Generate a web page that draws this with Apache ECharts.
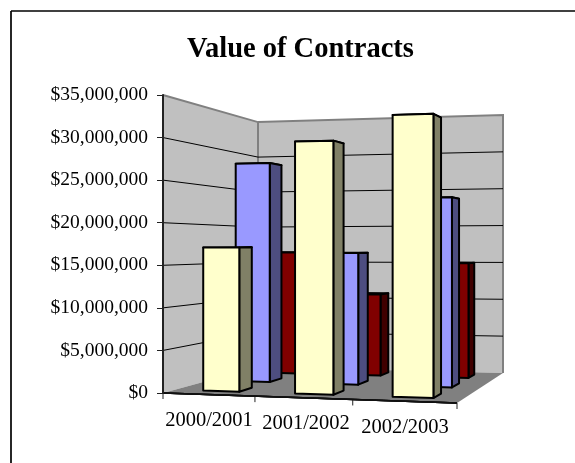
<!DOCTYPE html>
<html>
<head>
<meta charset="utf-8">
<style>html,body{margin:0;padding:0;background:#fff}#c{width:575px;height:463px}</style>
<script src="https://cdn.jsdelivr.net/npm/echarts@6/dist/echarts.min.js"></script>
</head>
<body>
<div id="c"></div>
<script>
const categories = ['2000/2001', '2001/2002', '2002/2003'];
const yellowValues = [17100000, 29500000, 32300000];
const blueValues = [27800000, 16400000, 23200000];
const redValues = [16400000, 10800000, 15000000];
const gridValues = [5000000, 10000000, 15000000, 20000000, 25000000, 30000000];
const tickCats = [0, 1, 2, 3];
const labelShifts = [[17, 6], [20, 8], [24, 6]];
const FONT = '"Liberation Serif", serif';

// Floor corners of the perspective box (front-left, front-right, back-right, back-left)
const A = [163, 393], B = [457, 403], C = [503, 373], D = [258, 367];
const GL = 163, GR = 457, GT = 95, GB = 393;
const dx1 = [B[0]-C[0], B[1]-C[1]], dx2 = [D[0]-C[0], D[1]-C[1]];
const s = [A[0]-B[0]+C[0]-D[0], A[1]-B[1]+C[1]-D[1]];
const det = (p, q) => p[0]*q[1]-p[1]*q[0];
const dd = det(dx1, dx2), g = det(s, dx2)/dd, h = det(dx1, s)/dd;
const a11 = B[0]-A[0]+g*B[0], a12 = D[0]-A[0]+h*D[0];
const a21 = B[1]-A[1]+g*B[1], a22 = D[1]-A[1]+h*D[1];
const gH = -0.062; // perspective of heights along the front
// u: 0..1 along front, w: 0..1 depth, f: 0..1 fraction of the value axis
function proj(u, w, f) {
  const W = g*u + h*w + 1;
  const x = (a11*u + a12*w + A[0]) / W;
  const y = (a21*u + a22*w + A[1]) / W;
  return [x, y - f*(GB-GT)/(gH*u + h*w + 1)];
}
const toU = px => (px-GL)/(GR-GL);
const toF = py => (GB-py)/(GB-GT);

function poly(points, fill, stroke, lw) {
  return {type:'polygon', shape:{points}, style:{fill, stroke:stroke||'none', lineWidth:lw||0, lineJoin:'round'}};
}
function line(points, stroke, lw) {
  return {type:'polyline', shape:{points}, style:{fill:'none', stroke, lineWidth:lw}};
}
function barSeries(name, values, w0, w1, front, side, z) {
  return {
    type:'custom', name, z, coordinateSystem:'cartesian2d', clip:false,
    data: values.map((v,i)=>[i,v]),
    encode:{x:0,y:1},
    renderItem(params, api){
      const p = api.coord([api.value(0), api.value(1)]);
      const cw = api.size([1,0])[0];
      const u0 = toU(p[0]-cw*0.2)+0.005, u1 = toU(p[0]+cw*0.2)+0.005, f = toF(p[1]);
      const K = '#000';
      return {type:'group', children:[
        poly([proj(u0,w0,f),proj(u1,w0,f),proj(u1,w1,f),proj(u0,w1,f)], front, K, 2),
        poly([proj(u1,w0,0),proj(u1,w1,0),proj(u1,w1,f),proj(u1,w0,f)], side, K, 2),
        poly([proj(u0,w0,0),proj(u1,w0,0),proj(u1,w0,f),proj(u0,w0,f)], front, K, 2)
      ]};
    }
  };
}

const chart = echarts.init(document.getElementById('c'), null, {renderer:'canvas'});
chart.setOption({
  animation:false,
  backgroundColor:'#fff',
  title:{text:'Value of Contracts', left:182, top:30,
    textStyle:{fontFamily:FONT, fontSize:28.5, fontWeight:'bold', color:'#000'}},
  grid:{left:GL, right:575-GR, top:GT, bottom:463-GB},
  graphic:[
    {type:'line', shape:{x1:11,y1:11,x2:575,y2:11}, style:{stroke:'#000',lineWidth:1.7}},
    {type:'line', shape:{x1:11,y1:11,x2:11,y2:463}, style:{stroke:'#000',lineWidth:1.7}}
  ],
  xAxis:{type:'category', data:categories.map((c,i)=>({value:c,
      textStyle:{padding:[labelShifts[i][0],labelShifts[i][1],0,0]}})),
    axisLine:{show:false}, axisTick:{show:false},
    axisLabel:{margin:0, interval:0, hideOverlap:false, fontFamily:FONT, fontSize:20.5, color:'#000'}},
  yAxis:{type:'value', min:0, max:35000000, interval:5000000, z:3,
    splitLine:{show:false},
    axisLine:{show:true, lineStyle:{color:'#222', width:2}},
    axisTick:{show:true, length:6, lineStyle:{color:'#222', width:1}},
    axisLabel:{margin:15, fontFamily:FONT, fontSize:19.5, color:'#000',
      formatter:v=>'$'+v.toLocaleString('en-US')}},
  series:[
    { // walls and floor
      type:'custom', name:'walls', z:1, clip:false, data:[[0,35000000]], encode:{x:0,y:1}, silent:true,
      renderItem(params, api){
        const f = toF(api.coord([0, api.value(1)])[1]);
        return {type:'group', children:[
          poly([proj(0,0,0),proj(0,1,0),proj(0,1,f),proj(0,0,f)], '#C0C0C0'),
          poly([proj(0,1,0),proj(1,1,0),proj(1,1,f),proj(0,1,f)], '#C0C0C0'),
          poly([proj(0,0,0),proj(1,0,0),proj(1,1,0),proj(0,1,0)], '#808080'),
          line([proj(0,0,f),proj(0,1,f),proj(1,1,f),proj(1,1,0)], '#808080', 2),
          line([proj(0,1,f),proj(0,1,0)], '#808080', 2)
        ]};
      }
    },
    { // gridlines on the walls
      type:'custom', name:'gridlines', z:2, clip:false, silent:true,
      data:gridValues.map(v=>[0,v]), encode:{x:0,y:1},
      renderItem(params, api){
        const f = toF(api.coord([0, api.value(1)])[1]);
        return line([proj(0,0,f),proj(0,1,f),proj(1,1,f)], '#000', 1);
      }
    },
    { // front floor edge and category ticks
      type:'custom', name:'floorTicks', z:2, clip:false, silent:true,
      data:tickCats.map(v=>[0,0,v]), encode:{x:0,y:1},
      renderItem(params, api){
        const u = api.value(2)/categories.length, b = proj(u,0,0);
        return {type:'group', children:[
          line([proj(0,0,0),proj(1,0,0)], '#111', 1.5),
          line([b,[b[0],b[1]+6]], '#222', 1)
        ]};
      }
    },
    barSeries('Red', redValues, 0.78, 0.91, '#800000', '#400000', 4),
    barSeries('Blue', blueValues, 0.44, 0.58, '#9999FF', '#4D4D80', 5),
    barSeries('Yellow', yellowValues, 0.11, 0.24, '#FFFFCC', '#808066', 6)
  ]
});
</script>
</body>
</html>
